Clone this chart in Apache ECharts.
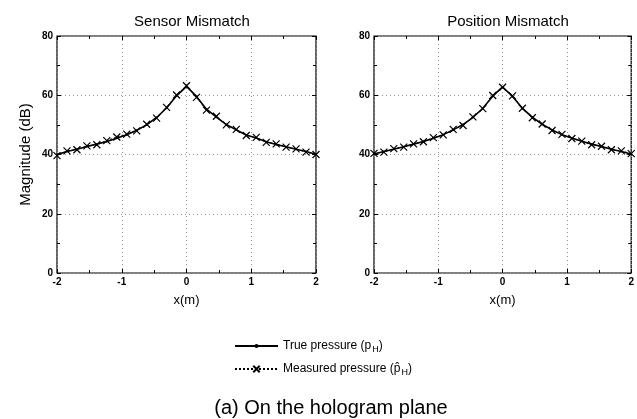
<!DOCTYPE html>
<html>
<head>
<meta charset="utf-8">
<script src="https://cdn.jsdelivr.net/npm/echarts@6/dist/echarts.min.js"></script>
<style>
  html, body { margin: 0; padding: 0; background: #fff; }
</style>
</head>
<body>
<div id="hologram" style="width:637px;height:419px;"></div>
<script>
// sample positions along the hologram plane (m)
const xPos = [-2, -1.846, -1.692, -1.538, -1.385, -1.231, -1.077, -0.923, -0.769, -0.615, -0.462, -0.308, -0.154,
    0, 0.154, 0.308, 0.462, 0.615, 0.769, 0.923, 1.077, 1.231, 1.385, 1.538, 1.692, 1.846, 2];

const sensorTrue = [40.0, 41.0, 41.8, 42.7, 43.5, 44.4, 45.5, 46.7, 48.2, 50.0, 52.5, 55.7, 59.8,
    63.0, 59.6, 55.3, 52.6, 50.1, 48.3, 46.6, 45.6, 44.3, 43.4, 42.6, 41.8, 41.0, 40.1];
const sensorMeasured = [39.6, 41.2, 41.6, 42.9, 43.3, 44.7, 45.9, 46.9, 48.0, 50.2, 52.3, 55.9, 60.1,
    63.2, 59.3, 55.0, 52.9, 50.0, 48.5, 46.4, 45.8, 44.1, 43.6, 42.5, 41.9, 40.8, 40.0];

const positionTrue = [40.2, 41.0, 41.8, 42.6, 43.5, 44.4, 45.5, 46.7, 48.3, 50.1, 52.5, 55.6, 59.7,
    62.8, 59.6, 55.6, 52.6, 50.2, 48.3, 46.7, 45.6, 44.5, 43.5, 42.7, 41.8, 41.0, 40.2];
const positionMeasured = [40.4, 40.8, 42.0, 42.5, 43.6, 44.3, 45.7, 46.6, 48.5, 49.8, 52.7, 55.5, 59.9,
    62.7, 59.8, 55.6, 52.4, 50.3, 48.1, 46.8, 45.4, 44.5, 43.3, 42.8, 41.6, 41.2, 40.3];

const panelTitles = ['Sensor Mismatch', 'Position Mismatch'];
const seriesNames = ['True pressure', 'Measured pressure'];

const font = 'Liberation Sans, Arial, sans-serif';
const crossSymbol = 'path://M0,0L10,10M10,0L0,10';

function pair(xs, ys) {
    return xs.map(function (x, i) { return [x, ys[i]]; });
}

function xAxisFor(gridIndex, bottom) {
    return {
        type: 'value', gridIndex: gridIndex, min: -2, max: 2, interval: 1,
        position: bottom ? 'bottom' : 'top',
        name: bottom ? 'x(m)' : '', nameLocation: 'middle', nameGap: 21,
        nameTextStyle: {fontFamily: font, fontSize: 13, color: '#000'},
        axisLine: {show: false, onZero: false},
        axisTick: {show: true, inside: true, length: 4, lineStyle: {color: '#000'}},
        minorTick: {show: true, splitNumber: 2, length: 3, lineStyle: {color: '#000'}},
        axisLabel: {show: bottom, fontFamily: font, fontSize: 10, fontWeight: 'bold', color: '#000', margin: 4},
        splitLine: {show: bottom, lineStyle: {color: '#999', type: [1, 3], width: 1}}
    };
}

function yAxisFor(gridIndex, left, named) {
    return {
        type: 'value', gridIndex: gridIndex, min: 0, max: 80, interval: 20,
        position: left ? 'left' : 'right',
        name: named ? 'Magnitude (dB)' : '', nameLocation: 'middle', nameGap: 24,
        nameTextStyle: {fontFamily: font, fontSize: 15, color: '#000'},
        axisLine: {show: false, onZero: false},
        axisTick: {show: true, inside: true, length: 4, lineStyle: {color: '#000'}},
        minorTick: {show: true, splitNumber: 2, length: 3, lineStyle: {color: '#000'}},
        axisLabel: {show: left, fontFamily: font, fontSize: 10, fontWeight: 'bold', color: '#000', margin: 4},
        splitLine: {show: left, lineStyle: {color: '#999', type: [1, 3], width: 1}}
    };
}

function trueSeries(idx, ys) {
    return {
        name: seriesNames[0], type: 'line', xAxisIndex: idx * 2, yAxisIndex: idx * 2,
        data: pair(xPos, ys), symbol: 'circle', symbolSize: 2, showSymbol: true,
        lineStyle: {color: '#000', width: 1.6}, itemStyle: {color: '#000'},
        animation: false, z: 3
    };
}

function measuredSeries(idx, ys) {
    return {
        name: seriesNames[1], type: 'line', xAxisIndex: idx * 2, yAxisIndex: idx * 2,
        data: pair(xPos, ys), symbol: crossSymbol, symbolSize: 7, showSymbol: true,
        lineStyle: {color: '#000', width: 1, type: [2, 2]},
        itemStyle: {color: '#000', borderColor: '#000', borderWidth: 1.2},
        animation: false, z: 4
    };
}

const legendText = {
    fontFamily: font, fontSize: 12, color: '#000',
    rich: {
        p: {fontFamily: font, fontSize: 12, color: '#000'},
        sub: {fontFamily: font, fontSize: 9, color: '#000', padding: [7, 0, 0, 1]}
    }
};

const option = {
    backgroundColor: '#fff',
    animation: false,
    title: [
        {text: panelTitles[0], left: 187, top: 9, textAlign: 'center',
            textStyle: {fontFamily: font, fontSize: 15, fontWeight: 'normal', color: '#000'}},
        {text: panelTitles[1], left: 503, top: 9, textAlign: 'center',
            textStyle: {fontFamily: font, fontSize: 15, fontWeight: 'normal', color: '#000'}},
        {text: '(a) On the hologram plane', left: 326, top: 393, textAlign: 'center',
            textStyle: {fontFamily: font, fontSize: 20, fontWeight: 'normal', color: '#000'}}
    ],
    legend: [
        {
            data: [seriesNames[0]], left: 229, top: 335,
            itemWidth: 43, itemHeight: 5,
            textStyle: legendText,
            formatter: function () { return '{p|True pressure (p}{sub|H}{p|)}'; }
        },
        {
            data: [seriesNames[1]], left: 229, top: 358,
            itemWidth: 43, itemHeight: 8,
            textStyle: legendText,
            formatter: function () { return '{p|Measured pressure (p\u0302}{sub|H}{p|)}'; }
        }
    ],
    grid: [
        {left: 57, top: 36, width: 259, height: 237, show: true, borderColor: '#000', borderWidth: 1.2},
        {left: 374, top: 36, width: 259, height: 237, show: true, borderColor: '#000', borderWidth: 1.2}
    ],
    xAxis: [xAxisFor(0, true), xAxisFor(0, false), xAxisFor(1, true), xAxisFor(1, false)],
    yAxis: [yAxisFor(0, true, true), yAxisFor(0, false, false), yAxisFor(1, true, false), yAxisFor(1, false, false)],
    series: [
        trueSeries(0, sensorTrue),
        measuredSeries(0, sensorMeasured),
        trueSeries(1, positionTrue),
        measuredSeries(1, positionMeasured)
    ]
};

const chart = echarts.init(document.getElementById('hologram'), null, {renderer: 'canvas'});
chart.setOption(option);
window.addEventListener('resize', function () {
    chart.resize();
});
</script>
</body>
</html>
